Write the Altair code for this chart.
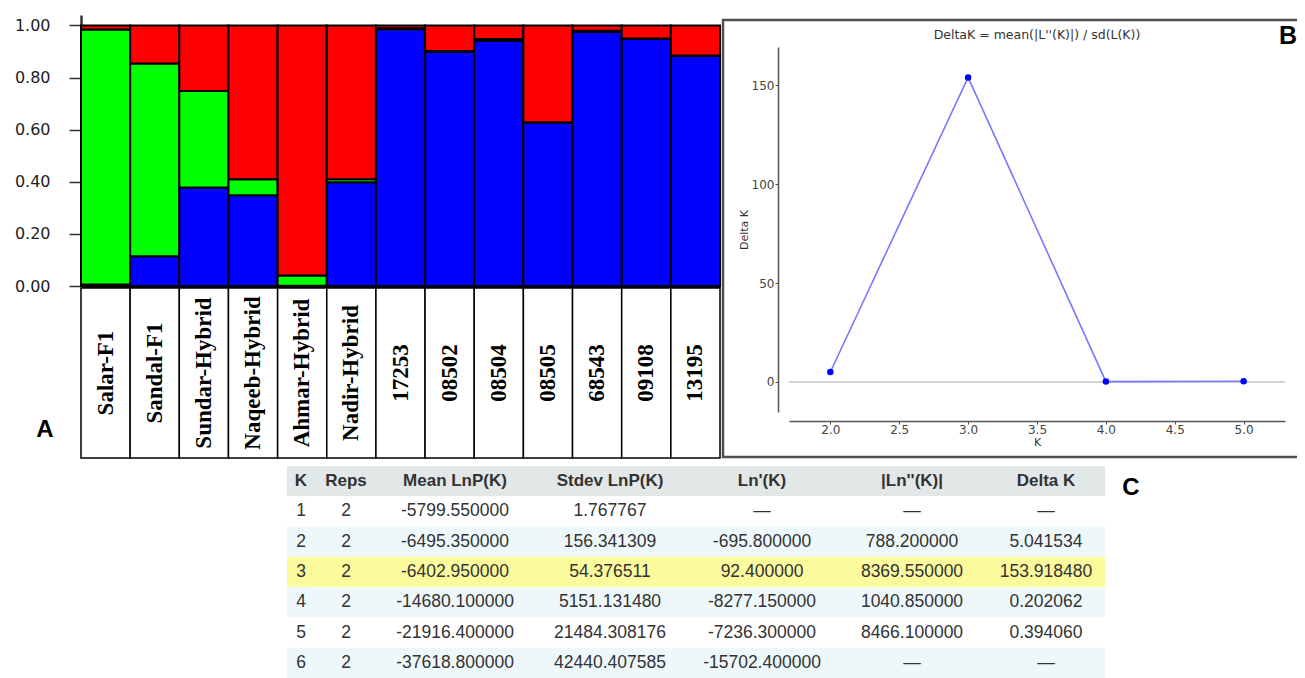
import altair as alt
import pandas as pd

# ---------------- Panel A: STRUCTURE bar plot ----------------
SAMPLES = ["Salar-F1", "Sandal-F1", "Sundar-Hybrid", "Naqeeb-Hybrid", "Ahmar-Hybrid",
           "Nadir-Hybrid", "17253", "08502", "08504", "08505", "68543", "09108", "13195"]
CLUSTERS = ["Cluster 1", "Cluster 2", "Cluster 3"]
CLUSTER_COLORS = ["#0000ff", "#00ff00", "#ff0000"]
Q_BLUE = [0.006, 0.114, 0.378, 0.348, 0.001, 0.398, 0.985, 0.899, 0.941, 0.627, 0.975, 0.948, 0.883]
Q_GREEN = [0.978, 0.740, 0.370, 0.062, 0.039, 0.012, 0.004, 0.003, 0.007, 0.001, 0.005, 0.002, 0.002]
Q_RED = [0.016, 0.146, 0.252, 0.590, 0.960, 0.590, 0.011, 0.098, 0.052, 0.372, 0.020, 0.050, 0.115]
Y_TICKS = [0.0, 0.2, 0.4, 0.6, 0.8, 1.0]

# ---------------- Panel B: Delta K ----------------
K_VALUES = [2, 3, 4, 5]
DELTA_K = [5.041534, 153.918480, 0.202062, 0.394060]
K_TICKS = [2.0, 2.5, 3.0, 3.5, 4.0, 4.5, 5.0]
DK_TICKS = [0, 50, 100, 150]
XLIM = [1.7, 5.3]
YLIM = [-15.17, 169.29]
B_TITLE = "DeltaK = mean(|L''(K)|) / sd(L(K))"

# ---------------- Panel C: table ----------------
TABLE_HEADER = ["K", "Reps", "Mean LnP(K)", "Stdev LnP(K)", "Ln'(K)", "|Ln''(K)|", "Delta K"]
COL_K = ["1", "2", "3", "4", "5", "6"]
COL_REPS = ["2", "2", "2", "2", "2", "2"]
COL_MEAN = ["-5799.550000", "-6495.350000", "-6402.950000", "-14680.100000", "-21916.400000", "-37618.800000"]
COL_STDEV = ["1.767767", "156.341309", "54.376511", "5151.131480", "21484.308176", "42440.407585"]
COL_LN1 = ["—", "-695.800000", "92.400000", "-8277.150000", "-7236.300000", "-15702.400000"]
COL_LN2 = ["—", "788.200000", "8369.550000", "1040.850000", "8466.100000", "—"]
COL_DK = ["—", "5.041534", "153.918480", "0.202062", "0.394060", "—"]
ROW_STYLE = ["header", "plain", "shade", "best", "shade", "plain", "shade"]
STYLE_NAMES = ["header", "plain", "shade", "best"]
STYLE_COLORS = ["#e2e7e7", "#ffffff", "#eef8fa", "#fbfa9d"]
COL_WIDTHS = [28, 62, 156, 154, 150, 150, 118]

# ======== Panel A ========
rows = []
for i, s in enumerate(SAMPLES):
    for j, (c, vals) in enumerate(zip(CLUSTERS, [Q_BLUE, Q_GREEN, Q_RED])):
        rows.append({"sample": s, "cluster": c, "value": vals[i], "idx": j})
bar_df = pd.DataFrame(rows)

x_scale = alt.Scale(paddingInner=0, paddingOuter=0)

bars = alt.Chart(bar_df).mark_bar(stroke="black", strokeWidth=2).encode(
    x=alt.X("sample:N", sort=SAMPLES, scale=x_scale,
            axis=alt.Axis(labels=False, ticks=False, title=None, domainColor="black", domainWidth=3)),
    y=alt.Y("value:Q", stack="zero", scale=alt.Scale(domain=[0, 1.04], nice=False),
            axis=alt.Axis(values=Y_TICKS, format=".2f", title=None, grid=False, tickSize=12,
                          tickWidth=1.5, tickColor="#333", domainColor="#333", domainWidth=2.5,
                          labelFont="DejaVu Sans", labelFontSize=16, labelColor="#222",
                          labelPadding=19, minExtent=73)),
    color=alt.Color("cluster:N", scale=alt.Scale(domain=CLUSTERS, range=CLUSTER_COLORS), legend=None),
    order=alt.Order("idx:Q"),
).properties(width=639, height=271)

lab_df = pd.DataFrame({"sample": SAMPLES})
cells = alt.Chart(lab_df).mark_rect(fill="white", stroke="black", strokeWidth=1.5).encode(
    x=alt.X("sample:N", sort=SAMPLES, scale=x_scale, axis=None)
)
names = alt.Chart(lab_df).mark_text(angle=270, font="Liberation Serif", fontWeight="bold",
                                    fontSize=23, color="black").encode(
    x=alt.X("sample:N", sort=SAMPLES, scale=x_scale, axis=None),
    text="sample:N",
)
letter_a = alt.Chart(pd.DataFrame({"t": ["A"]})).mark_text(
    font="Liberation Sans", fontWeight="bold", fontSize=24, color="black"
).encode(x=alt.value(-36), y=alt.value(142), text="t:N")
labels = alt.layer(cells, names, letter_a).properties(width=639, height=170)

A_col = alt.vconcat(bars, labels, spacing=2, bounds="flush")

# ======== Panel B ========
b_df = pd.DataFrame({"K": K_VALUES, "dk": DELTA_K})
xb = alt.X("K:Q", scale=alt.Scale(domain=XLIM, nice=False, zero=False),
           axis=alt.Axis(values=K_TICKS, format=".1f", title="K", offset=9, grid=False,
                         domainColor="#555", domainWidth=1.5, tickColor="#555", tickSize=3,
                         labelFont="DejaVu Sans", labelFontSize=12, labelColor="#444",
                         labelPadding=0, titleFont="DejaVu Sans", titleFontSize=11,
                         titleFontWeight="normal", titleColor="#333", titlePadding=1))
yb = alt.Y("dk:Q", scale=alt.Scale(domain=YLIM, nice=False, zero=False),
           axis=alt.Axis(values=DK_TICKS, title="Delta K", offset=11, grid=False,
                         domainColor="#555", domainWidth=1.5, tickColor="#555", tickSize=3,
                         labelFont="DejaVu Sans", labelFontSize=12, labelColor="#444",
                         labelPadding=1, titleFont="DejaVu Sans", titleFontSize=11,
                         titleFontWeight="normal", titleColor="#333", titlePadding=2))

frame = alt.Chart(pd.DataFrame({"f": [0]})).mark_rect(
    fill="white", fillOpacity=0, stroke="#505050", strokeWidth=2.5
).encode(x=alt.value(-66), x2=alt.value(518), y=alt.value(-27), y2=alt.value(410))
zero_line = alt.Chart(pd.DataFrame({"dk": [0]})).mark_rule(color="#c4c4c4", strokeWidth=1.5).encode(y=yb)
dk_line = alt.Chart(b_df).mark_line(color="#7878ff", strokeWidth=1.6).encode(x=xb, y=yb)
dk_pts = alt.Chart(b_df).mark_circle(color="#0000ff", size=42, opacity=1).encode(x=xb, y=yb)
b_title = alt.Chart(pd.DataFrame({"t": [B_TITLE]})).mark_text(
    font="DejaVu Sans", fontSize=12.5, color="#333"
).encode(x=alt.value(248), y=alt.value(-12), text="t:N")
letter_b = alt.Chart(pd.DataFrame({"t": ["B"]})).mark_text(
    font="Liberation Sans", fontWeight="bold", fontSize=25, color="black", align="left"
).encode(x=alt.value(490), y=alt.value(-11), text="t:N")

B = alt.layer(frame, zero_line, dk_line, dk_pts, b_title, letter_b).properties(width=496, height=365)
spacer_b = alt.Chart(pd.DataFrame({"s": [0]})).mark_text(text="").encode(
    x=alt.value(248), y=alt.value(16)).properties(width=496, height=32)
B_col = alt.vconcat(spacer_b, B, spacing=0, bounds="flush")

top_row = alt.hconcat(A_col, B_col, spacing=0)

# ======== Panel C ========
def column_chart(header, values, width, letter=None):
    df = pd.DataFrame({"row": list(range(7)), "text": [header] + values, "style": ROW_STYLE})
    ys = alt.Y("row:O", axis=None, scale=alt.Scale(paddingInner=0, paddingOuter=0))
    bg = alt.Chart(df).mark_rect().encode(
        y=ys,
        color=alt.Color("style:N", scale=alt.Scale(domain=STYLE_NAMES, range=STYLE_COLORS), legend=None),
    )
    head = alt.Chart(df).transform_filter("datum.row == 0").mark_text(
        font="Liberation Sans", fontWeight="bold", fontSize=17, color="#333"
    ).encode(y=ys, text="text:N")
    body = alt.Chart(df).transform_filter("datum.row > 0").mark_text(
        font="Liberation Sans", fontSize=17.5, color="#333"
    ).encode(y=ys, text="text:N")
    layers = [bg, head, body]
    if letter:
        layers.append(alt.Chart(pd.DataFrame({"t": [letter]})).mark_text(
            font="Liberation Sans", fontWeight="bold", fontSize=24, color="black"
        ).encode(x=alt.value(width + 26), y=alt.value(22), text="t:N"))
    return alt.layer(*layers).properties(width=width, height=212)

cols_vals = [COL_K, COL_REPS, COL_MEAN, COL_STDEV, COL_LN1, COL_LN2, COL_DK]
col_charts = []
for i, (h, v, w) in enumerate(zip(TABLE_HEADER, cols_vals, COL_WIDTHS)):
    col_charts.append(column_chart(h, v, w, letter="C" if i == len(TABLE_HEADER) - 1 else None))

spacer_t = alt.Chart(pd.DataFrame({"s": [0]})).mark_text(text="").encode(
    x=alt.value(103), y=alt.value(106)).properties(width=206, height=212)
table_row = alt.hconcat(spacer_t, *col_charts, spacing=0, bounds="flush")

chart = alt.vconcat(top_row, table_row, spacing=7).properties(
    padding={"left": 0, "top": 7, "right": -12, "bottom": 0},
    background="white",
).resolve_scale(color="independent").configure_view(stroke=None)

chart.save("out.html", embed_options={"renderer": "svg", "actions": False})
